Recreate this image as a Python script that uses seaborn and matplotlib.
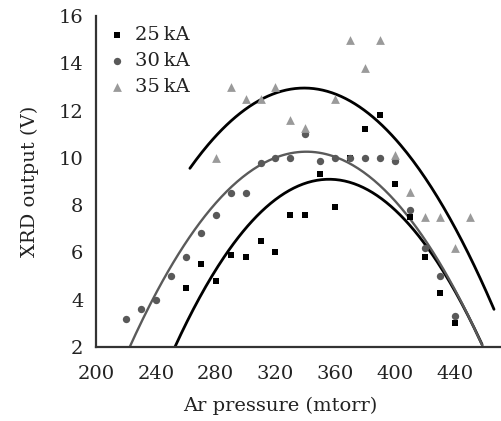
import numpy as np
import pandas as pd
import matplotlib
matplotlib.use("Agg")
import matplotlib.pyplot as plt
from matplotlib.ticker import MultipleLocator
import seaborn as sns

sns.set_theme(style="white")
plt.rcParams['font.family'] = ['DejaVu Serif']

# measured points (Ar pressure in mtorr, XRD output in V)
p_25 = [260, 270, 280, 290, 300, 310, 320, 330, 340, 350, 360, 370, 380, 390, 400, 410, 420, 430, 440]
v_25 = [4.5, 5.5, 4.8, 5.9, 5.8, 6.5, 6.0, 7.6, 7.6, 9.3, 7.9, 10.0, 11.2, 11.8, 8.9, 7.5, 5.8, 4.3, 3.0]

p_30 = [220, 230, 240, 250, 260, 270, 280, 290, 300, 310, 320, 330, 340, 350, 360, 370, 380, 390, 400, 410, 420, 430, 440]
v_30 = [3.2, 3.6, 4.0, 5.0, 5.8, 6.8, 7.6, 8.5, 8.5, 9.8, 10.0, 10.0, 11.0, 9.85, 10.0, 10.0, 10.0, 10.0, 9.85, 7.8, 6.2, 5.0, 3.3]

p_35 = [280, 290, 300, 310, 320, 330, 340, 360, 370, 380, 390, 400, 410, 420, 430, 440, 450]
v_35 = [10.0, 13.0, 12.5, 12.5, 13.0, 11.6, 11.25, 12.5, 15.0, 13.8, 15.0, 10.1, 8.55, 7.5, 7.5, 6.2, 7.5]

# points
cx_25 = [252.8, 271.7, 300.7, 329.7, 355.0, 378.7, 407.6, 430.0, 458.0]
cy_25 = [2.0, 4.41, 7.09, 8.5, 9.05, 8.65, 7.6, 5.4, 2.0]

cx_30 = [222.0, 247.2, 256.1, 278.4, 309.6, 338.6, 356.4, 378.7, 409.9, 434.4, 458.4]
cy_30 = [2.0, 4.98, 6.1, 7.8, 9.78, 10.23, 10.03, 9.5, 7.52, 4.98, 2.0]

cx_35 = [262.8, 269.5, 289.6, 309.6, 336.4, 356.4, 378.7, 401.0, 434.4, 452.2, 466.0]
cy_35 = [9.58, 10.06, 11.6, 12.46, 12.89, 12.72, 12.04, 10.77, 7.8, 5.4, 3.6]

labels = ["25\u2009kA", "30\u2009kA", "35\u2009kA"]

fig, ax = plt.subplots(figsize=(5.02, 4.21), dpi=100)
fig.subplots_adjust(left=0.191, right=0.996, bottom=0.176, top=0.962)


def fit_curve(xs, ys):
    coef = np.polyfit(xs, ys, 2)
    xx = np.linspace(xs[0], xs[-1], 200)
    return pd.DataFrame({"x": xx, "y": np.polyval(coef, xx)})


# fitted curves
for cx, cy, col, lw in [(cx_25, cy_25, "#000000", 2.0),
                        (cx_30, cy_30, "#5a5a5a", 1.7),
                        (cx_35, cy_35, "#000000", 2.0)]:
    d = fit_curve(cx, cy)
    sns.lineplot(data=d, x="x", y="y", color=col, linewidth=lw, ax=ax, legend=False)

# scatter points
sns.scatterplot(x=p_25, y=v_25, marker="s", color="#000000", s=24, linewidth=0,
                label=labels[0], ax=ax, zorder=3)
sns.scatterplot(x=p_30, y=v_30, marker="o", color="#595959", s=28, linewidth=0,
                label=labels[1], ax=ax, zorder=3)
sns.scatterplot(x=p_35, y=v_35, marker="^", color="#9a9a9a", s=40, linewidth=0,
                label=labels[2], ax=ax, zorder=3)

ax.set_xlim(200, 470)
ax.set_ylim(2, 16)
ax.set_xticks(np.arange(200, 441, 40))
ax.set_yticks(np.arange(2, 17, 2))
ax.xaxis.set_minor_locator(MultipleLocator(10))
ax.yaxis.set_minor_locator(MultipleLocator(1))

for side in ["top", "right"]:
    ax.spines[side].set_visible(False)
for side in ["left", "bottom"]:
    ax.spines[side].set_color("#333333")
    ax.spines[side].set_linewidth(1.6)

ax.tick_params(which="major", direction="inout", length=8, width=1.3,
               colors="#333333", labelsize=14, labelcolor="#222222")
ax.tick_params(which="minor", direction="inout", length=5, width=1.0, colors="#333333")
ax.tick_params(axis="x", which="major", pad=9)
ax.tick_params(axis="y", which="major", pad=5)

ax.set_xlabel("Ar pressure (mtorr)", fontsize=14, color="#222222", labelpad=10)
ax.set_ylabel("XRD output (V)", fontsize=14, color="#222222", labelpad=14)
ax.xaxis.label.set_x(0.455)

leg = ax.legend(loc="upper left", frameon=False, fontsize=14, handletextpad=0.4,
                borderaxespad=0.3, labelspacing=0.4, bbox_to_anchor=(-0.005, 1.01),
                markerscale=1.0, handlelength=1.0)
for t in leg.get_texts():
    t.set_color("#222222")

fig.savefig("out.png", dpi=100)
